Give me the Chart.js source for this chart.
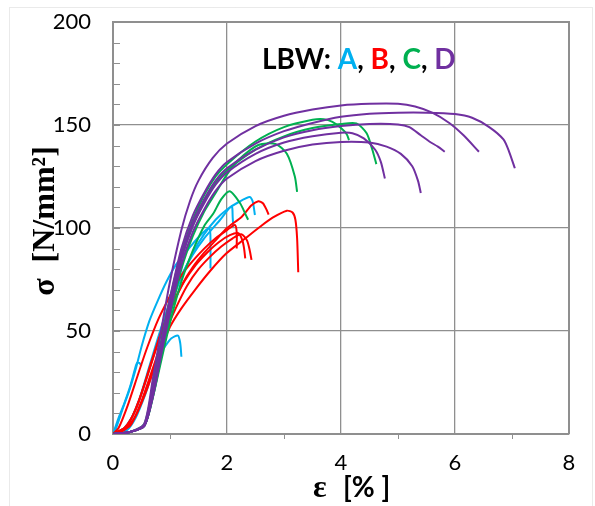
<!DOCTYPE html>
<html>
<head>
<meta charset="utf-8">
<script src="https://cdn.jsdelivr.net/npm/chart.js@4"></script>
<style>
html,body{margin:0;padding:0;background:#fff;}
canvas{display:block;}
</style>
</head>
<body>
<canvas id="c" width="595" height="506"></canvas>
<script>
// ---- data: strain [%] vs stress [N/mm²] ----
const xTicks = [0, 2, 4, 6, 8];
const yTicks = [0, 50, 100, 150, 200];
const seriesLabels = ['A', 'B', 'C', 'D'];

// LBW A (cyan)
const A1 = [[0,0],[0.03,1],[0.18,13],[0.29,21.5],[0.41,32.7],[0.5,42.4],[0.64,55],[0.79,65],[0.94,74],[1.1,82],[1.3,89],[1.5,95.5],[1.69,100],[1.71,90],[1.71,80.4]];
const A2 = [[0,0],[0.2,3],[0.4,12],[0.6,28],[0.8,46],[1.0,62],[1.2,76],[1.4,88],[1.6,97],[1.8,104],[2.0,109],[2.2,112.5],[2.4,115],[2.45,113],[2.49,106.3]];
const A3 = [[0,0],[0.25,4],[0.45,16],[0.65,34],[0.85,52],[1.0,64],[1.2,77],[1.4,87],[1.6,95],[1.88,104],[2.08,110.5],[2.1,105],[2.11,100.6]];
const A4 = [[0,0],[0.25,2],[0.4,8],[0.55,18],[0.67,27.8],[0.79,37.5],[0.91,42.4],[1.02,46.4],[1.14,47.8],[1.18,44],[1.2,37.5]];
const A5 = [[0,0],[0.1,8],[0.2,15],[0.3,23],[0.38,31],[0.42,34.5],[0.46,34.5],[0.5,33]];

// LBW B (red)
const B1 = [[0,0],[0.2,3],[0.4,12],[0.6,28],[0.8,45],[1.0,60],[1.2,72],[1.4,81],[1.6,88],[1.8,94],[2.0,100],[2.26,105.5],[2.43,111],[2.55,113],[2.63,112],[2.7,108.5],[2.73,106.5]];
const B2 = [[0,0],[0.2,2],[0.4,9],[0.6,22],[0.8,38],[1.0,52],[1.2,61],[1.44,70],[1.7,79],[1.99,87.7],[2.3,94.5],[2.58,100.6],[2.8,105],[3.05,108.4],[3.15,107.5],[3.2,104],[3.23,95],[3.25,78.5]];
const B3 = [[0,0],[0.1,3],[0.26,14],[0.44,29],[0.6,42],[0.8,56],[1.0,67],[1.2,77],[1.4,84],[1.6,90],[1.8,95],[2.0,99],[2.14,101.5],[2.17,98],[2.17,90]];
const B4 = [[0,0],[0.25,4],[0.45,16],[0.65,33],[0.85,50],[1.05,63],[1.25,74],[1.45,82],[1.65,88],[1.85,93],[2.05,96.5],[2.2,97.5],[2.27,94],[2.3,90],[2.32,85.3]];
const B5 = [[0,0],[0.3,4],[0.5,16],[0.7,32],[0.9,48],[1.1,61],[1.3,72],[1.5,80],[1.7,86],[1.9,91],[2.1,95],[2.25,97],[2.35,94],[2.4,89],[2.43,84.5]];

// LBW C (green)
const C1 = [[0,0],[0.3,1],[0.55,5],[0.7,24],[0.85,46],[1.0,66],[1.2,88],[1.4,104],[1.6,116],[1.8,125],[2.0,131],[2.5,142],[3.0,149],[3.5,152.5],[3.7,152.8],[3.85,151.5],[4.0,148.5],[4.1,145.5],[4.14,142.7]];
const C2 = [[0,0],[0.3,1],[0.55,4],[0.7,20],[0.85,42],[1.0,62],[1.2,85],[1.4,101],[1.6,113],[1.8,122],[2.0,128],[2.5,138],[3.0,144.5],[3.5,148.5],[4.0,150.5],[4.27,150.8],[4.45,146],[4.55,138],[4.62,131]];
const C3 = [[0,0],[0.3,1],[0.55,4],[0.7,18],[0.85,38],[1.0,57],[1.2,80],[1.4,96],[1.6,108],[1.8,117],[2.0,126],[2.2,133],[2.55,140.3],[2.85,140.8],[3.05,136],[3.19,125],[3.23,117.5]];
const C4 = [[0,0],[0.3,1],[0.55,4],[0.7,18],[0.85,36],[1.0,54],[1.2,74],[1.4,89],[1.6,101],[1.76,107],[1.9,114],[2.05,117.8],[2.23,112],[2.32,107],[2.37,104]];

// LBW D (purple)
const D1 = [[0,0],[0.3,1],[0.55,5],[0.7,27],[0.85,51],[1.0,74],[1.2,99],[1.35,113],[1.5,123],[1.75,134],[2.0,141],[2.5,149.5],[3.0,154.5],[3.5,157.5],[4.0,159.5],[4.5,160.3],[5.0,160.3],[5.3,159],[5.6,156],[5.9,151],[6.15,145],[6.42,137]];
const D2 = [[0,0],[0.3,1],[0.55,4],[0.7,22],[0.85,45],[1.0,66],[1.2,90],[1.4,106],[1.6,117],[1.8,126],[2.0,132],[2.5,141],[3.0,147],[3.5,151],[4.0,154],[4.5,155.5],[5.0,156],[5.5,156],[6.0,155.3],[6.3,153.5],[6.6,149],[6.85,143],[6.95,137],[7.05,129]];
const D3 = [[0,0],[0.3,1],[0.55,4],[0.7,20],[0.85,43],[1.0,63],[1.2,87],[1.4,103],[1.6,114],[1.8,123],[2.0,129],[2.5,138],[3.0,144],[3.5,147.5],[4.0,149.5],[4.5,150.5],[5.0,150.3],[5.2,149],[5.4,145],[5.55,142],[5.7,139.5],[5.82,137]];
const D4 = [[0,0],[0.3,1],[0.55,4],[0.7,19],[0.85,41],[1.0,61],[1.2,85],[1.4,101],[1.6,112],[1.8,121],[2.0,127],[2.5,136],[3.0,141.5],[3.5,144.5],[4.0,146.2],[4.2,146],[4.4,143.5],[4.6,138],[4.7,132],[4.77,124]];
const D5 = [[0,0],[0.3,1],[0.55,4],[0.7,18],[0.85,39],[1.0,59],[1.2,82],[1.4,98],[1.6,109],[1.8,118],[2.0,124],[2.5,132.5],[3.0,137.5],[3.5,140.5],[4.0,141.8],[4.5,141.5],[4.8,139.5],[5.05,136],[5.25,130],[5.35,123],[5.4,117]];

const groupA = [A1, A2, A3, A4, A5];
const groupB = [B1, B2, B3, B4, B5];
const groupC = [C1, C2, C3, C4];
const groupD = [D1, D2, D3, D4, D5];

// ---- styling ----
const COLORS = { A: '#00B0F0', B: '#FF0000', C: '#00B050', D: '#7030A0' };
const GRID = '#8f8f8f';

function ds(curves, key) {
  return curves.map((c, i) => ({
    label: key + (i + 1),
    data: c.map(p => ({ x: p[0], y: p[1] })),
    showLine: true,
    borderColor: COLORS[key],
    backgroundColor: COLORS[key],
    borderWidth: 2,
    pointRadius: 0,
    tension: 0.25,
    fill: false
  }));
}

const datasets = [].concat(ds(groupD, 'D'), ds(groupC, 'C'), ds(groupB, 'B'), ds(groupA, 'A'));

const decorPlugin = {
  id: 'decor',
  beforeDraw(chart) {
    const ctx = chart.ctx;
    ctx.save();
    ctx.fillStyle = '#fff';
    ctx.fillRect(0, 0, chart.width, chart.height);
    ctx.strokeStyle = '#d4d4d4';
    ctx.lineWidth = 1;
    ctx.setLineDash([1, 1]);
    ctx.strokeRect(9.5, 7.5, 583, 520);
    ctx.restore();
  },
  afterDraw(chart) {
    const ctx = chart.ctx;
    const xs = chart.scales.x, ys = chart.scales.y;
    const a = chart.chartArea;
    ctx.save();
    // frame top/right
    ctx.strokeStyle = GRID;
    ctx.lineWidth = 2;
    ctx.beginPath();
    ctx.moveTo(a.left, a.top); ctx.lineTo(a.right, a.top); ctx.lineTo(a.right, a.bottom);
    ctx.stroke();
    // minor ticks
    ctx.lineWidth = 1;
    ctx.beginPath();
    for (let v = 10; v < 200; v += 10) {
      const py = Math.round(ys.getPixelForValue(v)) + 0.5;
      ctx.moveTo(a.left, py); ctx.lineTo(a.left + 7, py);
    }
    for (let v = 1; v < 8; v += 2) {
      const px = Math.round(xs.getPixelForValue(v)) + 0.5;
      ctx.moveTo(px, a.bottom); ctx.lineTo(px, a.bottom + 5);
    }
    ctx.stroke();

    // series label text
    ctx.textBaseline = 'alphabetic';
    ctx.textAlign = 'left';
    ctx.font = 'bold 28px Lato';
    const parts = [['LBW: ', '#000'], [seriesLabels[0], COLORS.A], [', ', '#000'], [seriesLabels[1], COLORS.B], [', ', '#000'], [seriesLabels[2], COLORS.C], [', ', '#000'], [seriesLabels[3], COLORS.D]];
    let tx = 262;
    for (const [t, col] of parts) {
      ctx.fillStyle = col;
      ctx.fillText(t, tx, 69);
      tx += ctx.measureText(t).width;
    }

    // y axis title
    ctx.fillStyle = '#000';
    ctx.save();
    ctx.translate(46, 221);
    ctx.rotate(-Math.PI / 2);
    ctx.textAlign = 'center';
    ctx.textBaseline = 'middle';
    ctx.font = 'bold 32px "Liberation Serif"';
    ctx.fillText('σ  [N/mm²]', 0, 0);
    ctx.restore();

    // x axis title
    ctx.textAlign = 'left';
    ctx.textBaseline = 'alphabetic';
    ctx.font = 'bold 32px "Liberation Serif"';
    ctx.fillText('ε', 313, 497);
    ctx.font = 'bold 28px Lato';
    ctx.fillText('[% ]', 343, 497);
    ctx.restore();
  }
};

new Chart(document.getElementById('c'), {
  type: 'scatter',
  data: { datasets },
  options: {
    responsive: false,
    animation: false,
    devicePixelRatio: 1,
    layout: { padding: { left: 0, right: 26, top: 22, bottom: 0 } },
    plugins: { legend: { display: false }, tooltip: { enabled: false } },
    scales: {
      x: {
        type: 'linear', min: 0, max: 8,
        afterBuildTicks: s => { s.ticks = xTicks.map(v => ({ value: v })); },
        afterFit: s => { s.height = 72; s.paddingLeft = 0; s.paddingRight = 0; },
        ticks: { font: { family: 'Lato', size: 22 }, color: '#000', padding: 16 },
        grid: { color: GRID, lineWidth: 1.3, drawTicks: false },
        border: { display: true, color: GRID, width: 2 }
      },
      y: {
        type: 'linear', min: 0, max: 200,
        afterBuildTicks: s => { s.ticks = yTicks.map(v => ({ value: v })); },
        afterFit: s => { s.width = 113; s.paddingTop = 0; s.paddingBottom = 0; },
        ticks: { font: { family: 'Lato', size: 22 }, color: '#000', padding: 22 },
        grid: { color: GRID, lineWidth: 1.3, drawTicks: false },
        border: { display: true, color: GRID, width: 2 }
      }
    }
  },
  plugins: [decorPlugin]
});
</script>
</body>
</html>
